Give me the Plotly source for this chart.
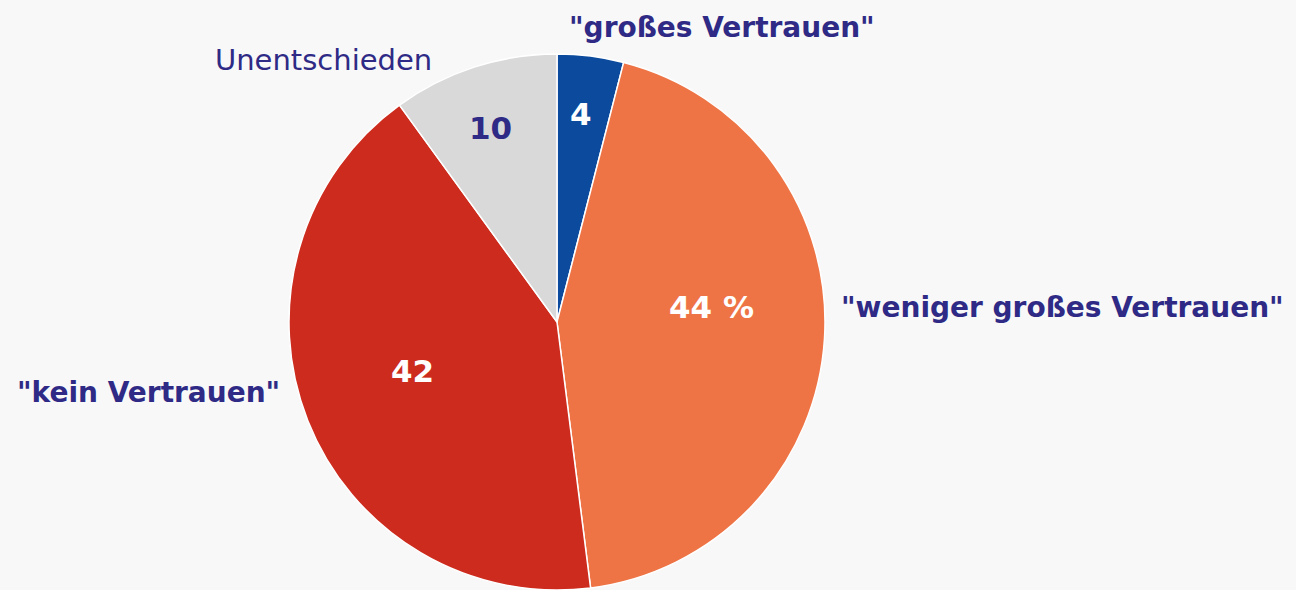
import math
import plotly.graph_objects as go

categories = ['"großes Vertrauen"', '"weniger großes Vertrauen"', '"kein Vertrauen"', 'Unentschieden']
values = [4, 44, 42, 10]
inside_labels = ['4', '44 %', '42', '10']
colors = ['#0b4a9c', '#ee7446', '#cc2b1d', '#d9d9d9']
inside_text_colors = ['#ffffff', '#ffffff', '#ffffff', '#2e2a85']
inside_radius_frac = [0.78, 0.58, 0.57, 0.765]
inside_angle_shift = [-0.7, -9.0, 3.0, -0.8]

NAVY = '#2e2a85'
FONT = 'DejaVu Sans'
W, H = 1296, 590
cx, cy, R = 557, 322, 268

fig = go.Figure(go.Pie(
    labels=categories,
    values=values,
    textinfo='none',
    marker=dict(colors=colors, line=dict(color='#ffffff', width=1.5)),
    sort=False,
    direction='clockwise',
    rotation=0,
    showlegend=False,
    hoverinfo='label+value',
    domain=dict(x=[(cx - R) / W, (cx + R) / W], y=[(H - cy - R) / H, (H - cy + R) / H]),
))

# inside labels placed near each slice's mid-angle
total = sum(values)
cum = 0
for v, t, c, f, s in zip(values, inside_labels, inside_text_colors, inside_radius_frac, inside_angle_shift):
    mid = (cum + v / 2) / total * 2 * math.pi + math.radians(s)
    cum += v
    px = cx + f * R * math.sin(mid)
    py = cy - f * R * math.cos(mid)
    fig.add_annotation(
        x=px / W, y=1 - py / H, xref='paper', yref='paper',
        text=f'<b>{t}</b>', showarrow=False, xanchor='center', yanchor='middle',
        font=dict(family=FONT, size=31, color=c),
    )

outer = [
    (categories[0], 722, 27, True, 28),
    (categories[3], 323, 60, False, 29),
    (categories[1], 1062, 307, True, 28),
    (categories[2], 148, 392, True, 28),
]
for txt, x, y, bold, size in outer:
    fig.add_annotation(
        x=x / W, y=1 - y / H, xref='paper', yref='paper',
        text=f'<b>{txt}</b>' if bold else txt,
        showarrow=False, xanchor='center', yanchor='middle',
        font=dict(family=FONT, size=size, color=NAVY),
    )

fig.update_layout(
    width=W, height=H,
    margin=dict(l=0, r=0, t=0, b=0),
    paper_bgcolor='#f8f8f8',
    plot_bgcolor='#f8f8f8',
)

fig.write_html('out.html', config={'displayModeBar': False},
               post_script="document.body.style.margin='0';document.body.style.background='#f8f8f8';")
